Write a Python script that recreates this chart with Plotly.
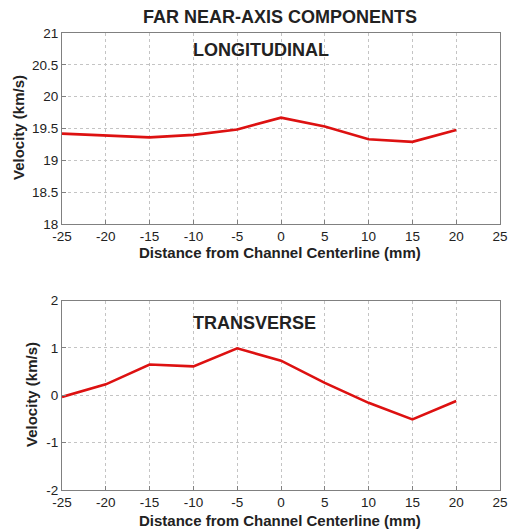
import plotly.graph_objects as go

distance = [-25, -20, -15, -10, -5, 0, 5, 10, 15, 20]
longitudinal = [19.42, 19.395, 19.36, 19.40, 19.485, 19.67, 19.53, 19.33, 19.29, 19.475]
transverse = [-0.035, 0.23, 0.65, 0.61, 0.99, 0.73, 0.26, -0.16, -0.51, -0.12]

x_ticks = [-25, -20, -15, -10, -5, 0, 5, 10, 15, 20, 25]
x_tick_text = ["-25", "-20", "-15", "-10", "-5", "0", "5", "10", "15", "20", "25"]
top_ticks = [18, 18.5, 19, 19.5, 20, 20.5, 21]
top_tick_text = ["18", "18.5", "19", "19.5", "20", "20.5", "21"]
bot_ticks = [-2, -1, 0, 1, 2]
bot_tick_text = ["-2", "-1", "0", "1", "2"]

W, H = 508, 532
FONT = "Liberation Sans, Arial, sans-serif"

fig = go.Figure()
fig.add_trace(go.Scatter(x=distance, y=longitudinal, mode="lines",
                         line=dict(color="#dd1111", width=2.6), xaxis="x", yaxis="y", showlegend=False))
fig.add_trace(go.Scatter(x=distance, y=transverse, mode="lines",
                         line=dict(color="#dd1111", width=2.6), xaxis="x2", yaxis="y2", showlegend=False))

xl, xr = 62 / W, 500 / W
top_dom = [(H - 224) / H, (H - 33) / H]
bot_dom = [(H - 490) / H, (H - 300.5) / H]

axis_common = dict(
    showgrid=True, gridcolor="#c4c4c4", griddash="dot", gridwidth=1,
    showline=True, linecolor="#808080", linewidth=1, mirror=True,
    ticks="inside", ticklen=4, tickcolor="#808080",
    tickfont=dict(family=FONT, size=13.5, color="#222"),
    zeroline=False, automargin=False,
)
title_font = dict(family=FONT, size=15, color="#222")
big_font = dict(family=FONT, size=18, color="#222")

fig.update_layout(
    width=W, height=H,
    margin=dict(l=0, r=0, t=0, b=0, autoexpand=False),
    paper_bgcolor="white", plot_bgcolor="white",
    xaxis=dict(domain=[xl, xr], range=[-25, 25], tickvals=x_ticks, ticktext=x_tick_text,
               anchor="y", ticklabelstandoff=0, **axis_common),
    yaxis=dict(domain=top_dom, range=[18, 21], tickvals=top_ticks, ticktext=top_tick_text,
               anchor="x", **axis_common),
    xaxis2=dict(domain=[xl, xr], range=[-25, 25], tickvals=x_ticks, ticktext=x_tick_text,
                anchor="y2", ticklabelstandoff=0, **axis_common),
    yaxis2=dict(domain=bot_dom, range=[-2, 2], tickvals=bot_ticks, ticktext=bot_tick_text,
                anchor="x2", **axis_common),
    annotations=[
        dict(text="<b>FAR NEAR-AXIS COMPONENTS</b>", x=280 / W, y=(H - 17) / H,
             xref="paper", yref="paper", showarrow=False, yanchor="middle", xanchor="center",
             font=big_font),
        dict(text="<b>LONGITUDINAL</b>", x=261 / W, y=(H - 50) / H,
             xref="paper", yref="paper", showarrow=False, yanchor="middle", xanchor="center",
             font=big_font),
        dict(text="<b>TRANSVERSE</b>", x=254 / W, y=(H - 323) / H,
             xref="paper", yref="paper", showarrow=False, yanchor="middle", xanchor="center",
             font=big_font),
        dict(text="<b>Distance from Channel Centerline (mm)</b>", x=280 / W, y=(H - 252) / H,
             xref="paper", yref="paper", showarrow=False, yanchor="middle", xanchor="center",
             font=title_font),
        dict(text="<b>Distance from Channel Centerline (mm)</b>", x=280 / W, y=(H - 520) / H,
             xref="paper", yref="paper", showarrow=False, yanchor="middle", xanchor="center",
             font=title_font),
        dict(text="<b>Velocity (km/s)</b>", x=18 / W, y=(H - 128) / H, textangle=-90,
             xref="paper", yref="paper", showarrow=False, yanchor="middle", xanchor="center",
             font=title_font),
        dict(text="<b>Velocity (km/s)</b>", x=32 / W, y=(H - 395) / H, textangle=-90,
             xref="paper", yref="paper", showarrow=False, yanchor="middle", xanchor="center",
             font=title_font),
    ],
)

fig.write_html("out.html")
